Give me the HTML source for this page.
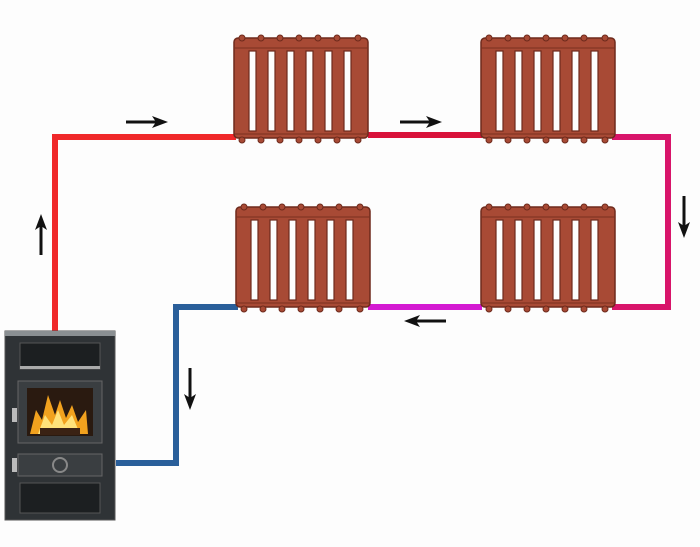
<!DOCTYPE html>
<html><head><style>html,body{margin:0;padding:0;background:#fdfdfd;}svg{display:block}</style></head>
<body>
<svg width="700" height="547" viewBox="0 0 700 547" xmlns="http://www.w3.org/2000/svg">
<defs>
<g id="rad">
  <rect x="0" y="4" width="134" height="100" rx="4" fill="#a84a35" stroke="#6e2a1c" stroke-width="1.5"/>
  <g fill="#fdfdfd" stroke="#6e2a1c" stroke-width="1.2">
    <rect x="15" y="17" width="7" height="80"/>
    <rect x="34" y="17" width="7" height="80"/>
    <rect x="53" y="17" width="7" height="80"/>
    <rect x="72" y="17" width="7" height="80"/>
    <rect x="91" y="17" width="7" height="80"/>
    <rect x="110" y="17" width="7" height="80"/>
  </g>
  <g stroke="#7a3020" stroke-width="1" fill="none">
    <path d="M0 14 H134 M0 100 H134"/>
  </g>
  <g fill="#a84a35" stroke="#6e2a1c" stroke-width="1">
    <circle cx="8" cy="4" r="3"/><circle cx="27" cy="4" r="3"/><circle cx="46" cy="4" r="3"/><circle cx="65" cy="4" r="3"/><circle cx="84" cy="4" r="3"/><circle cx="103" cy="4" r="3"/><circle cx="124" cy="4" r="3"/>
    <circle cx="8" cy="106" r="3"/><circle cx="27" cy="106" r="3"/><circle cx="46" cy="106" r="3"/><circle cx="65" cy="106" r="3"/><circle cx="84" cy="106" r="3"/><circle cx="103" cy="106" r="3"/><circle cx="124" cy="106" r="3"/>
  </g>
</g>
<marker id="ah" markerUnits="userSpaceOnUse" markerWidth="16" markerHeight="12" refX="4" refY="6" orient="auto"><path d="M0,0 L16,6 L0,12 L4,6z" fill="#111"/></marker>
</defs>
<g fill="none" stroke-width="6" stroke-linejoin="miter">
  <path d="M55 332 V137 H236" stroke="#f0282a"/>
  <path d="M368 135 H482" stroke="#d8123a"/>
  <path d="M612 137 H668 V307 H612" stroke="#d8146a"/>
  <path d="M482 307 H368" stroke="#d41ad2"/>
  <path d="M238 307 H176 V463 H116" stroke="#2a5f9a"/>
</g>
<use href="#rad" x="234" y="34"/>
<use href="#rad" x="481" y="34"/>
<use href="#rad" x="236" y="203"/>
<use href="#rad" x="481" y="203"/>
<g stroke="#111" stroke-width="3" marker-end="url(#ah)">
  <line x1="126" y1="122" x2="156" y2="122"/>
  <line x1="400" y1="122" x2="430" y2="122"/>
  <line x1="684" y1="196" x2="684" y2="226"/>
  <line x1="446" y1="321" x2="416" y2="321"/>
  <line x1="190" y1="368" x2="190" y2="398"/>
  <line x1="41" y1="255" x2="41" y2="226"/>
</g>
<g>
  <rect x="5" y="331" width="110" height="189" fill="#2f3336" stroke="#555" stroke-width="1"/>
  <rect x="5" y="331" width="110" height="5" fill="#8a8f92"/>
  <rect x="20" y="343" width="80" height="26" fill="#1c1f21" stroke="#555"/>
  <rect x="20" y="366" width="80" height="3" fill="#aaa"/>
  <rect x="18" y="381" width="84" height="62" fill="#3a3e41" stroke="#666"/>
  <rect x="27" y="388" width="66" height="48" fill="#2a1a10"/>
  <path d="M30 434 L36 410 L42 420 L48 395 L55 415 L60 400 L66 418 L72 405 L78 422 L86 410 L88 434Z" fill="#f2a21e"/>
  <path d="M38 434 L45 415 L52 425 L58 410 L64 425 L72 415 L80 434Z" fill="#ffe27a"/>
  <rect x="40" y="428" width="40" height="7" fill="#3a2214"/>
  <rect x="12" y="408" width="5" height="14" fill="#bbb"/>
  <rect x="18" y="454" width="84" height="22" fill="#3a3e41" stroke="#666"/>
  <circle cx="60" cy="465" r="7" fill="none" stroke="#888" stroke-width="2"/>
  <rect x="12" y="458" width="5" height="14" fill="#bbb"/>
  <rect x="20" y="483" width="80" height="30" fill="#1c1f21" stroke="#555"/>
</g>
</svg>
</body></html>
